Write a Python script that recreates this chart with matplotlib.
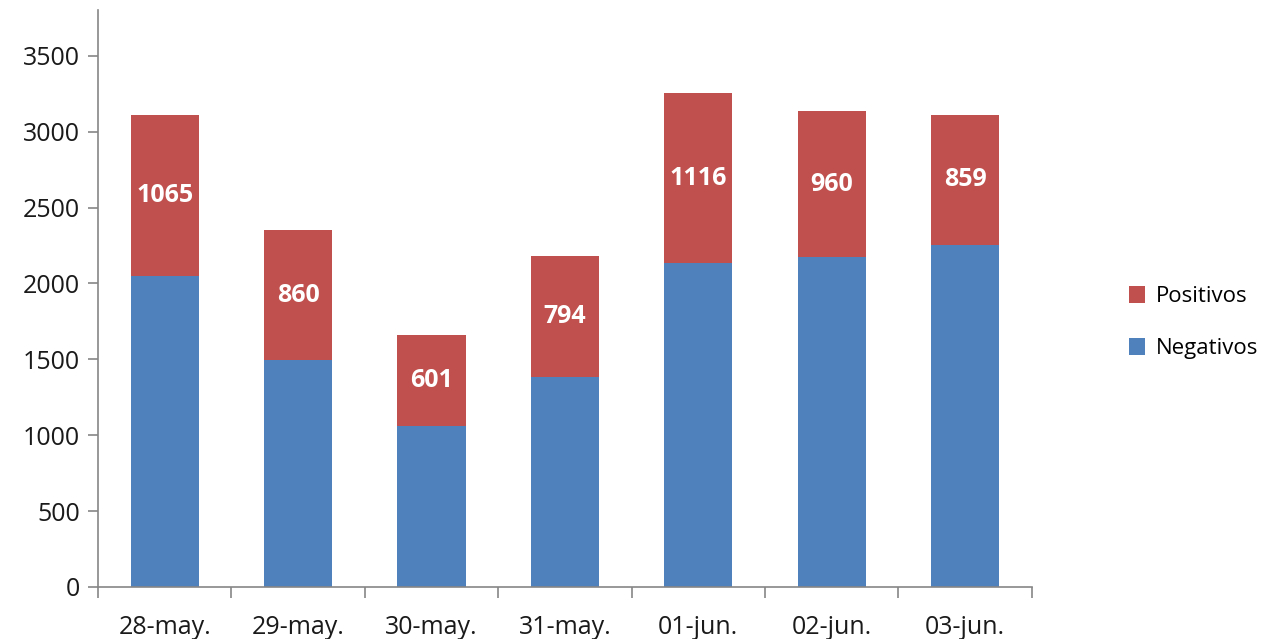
import matplotlib
matplotlib.use("Agg")
import matplotlib.pyplot as plt
import numpy as np

categories = ["28-may.", "29-may.", "30-may.", "31-may.", "01-jun.", "02-jun.", "03-jun."]
negativos = [2046, 1493, 1058, 1386, 2136, 2173, 2253]
positivos = [1065, 860, 601, 794, 1116, 960, 859]

blue = "#4F81BD"
red = "#C0504D"
axis_col = "#868686"

plt.rcParams['font.family'] = ['Open Sans', 'DejaVu Sans']

fig = plt.figure(figsize=(12.74, 6.39), dpi=100)
ax = fig.add_axes([0.0769, 0.0814, 0.733, 0.9026])

x = np.arange(len(categories))
w = 0.51
ax.bar(x, negativos, w, color=blue, label="Negativos", zorder=2)
ax.bar(x, positivos, w, bottom=negativos, color=red, label="Positivos", zorder=2)

for xi, n, p in zip(x, negativos, positivos):
    ax.text(xi, n + p / 2, str(p), ha="center", va="center", color="white",
            fontsize=18, fontweight="bold")

ax.set_xlim(-0.5, len(categories) - 0.5)
ax.set_ylim(0, 3800)
ax.set_yticks(np.arange(0, 3501, 500))
ax.set_xticks(x)
ax.set_xticklabels(categories)
ax.set_xticks(np.arange(-0.5, len(categories), 1), minor=True)
ax.tick_params(axis="x", which="major", length=0, pad=20, labelsize=18, colors="#1a1a1a")
ax.tick_params(axis="x", which="minor", length=8, color=axis_col, width=1.2, direction="out")
ax.tick_params(axis="y", length=7, color=axis_col, width=1.2, labelsize=18, colors="#1a1a1a", pad=6)
ax.tick_params(axis="y", color=axis_col)

for s in ["top", "right"]:
    ax.spines[s].set_visible(False)
for s in ["left", "bottom"]:
    ax.spines[s].set_color(axis_col)
    ax.spines[s].set_linewidth(1.2)

handles, labels = ax.get_legend_handles_labels()
fig.legend(handles[::-1], labels[::-1], loc="center left", bbox_to_anchor=(0.886, 0.495),
           frameon=False, fontsize=16, handlelength=0.75, handleheight=0.75,
           labelspacing=1.4, handletextpad=0.45, borderpad=0, borderaxespad=0)

fig.savefig("out.png", dpi=100)
